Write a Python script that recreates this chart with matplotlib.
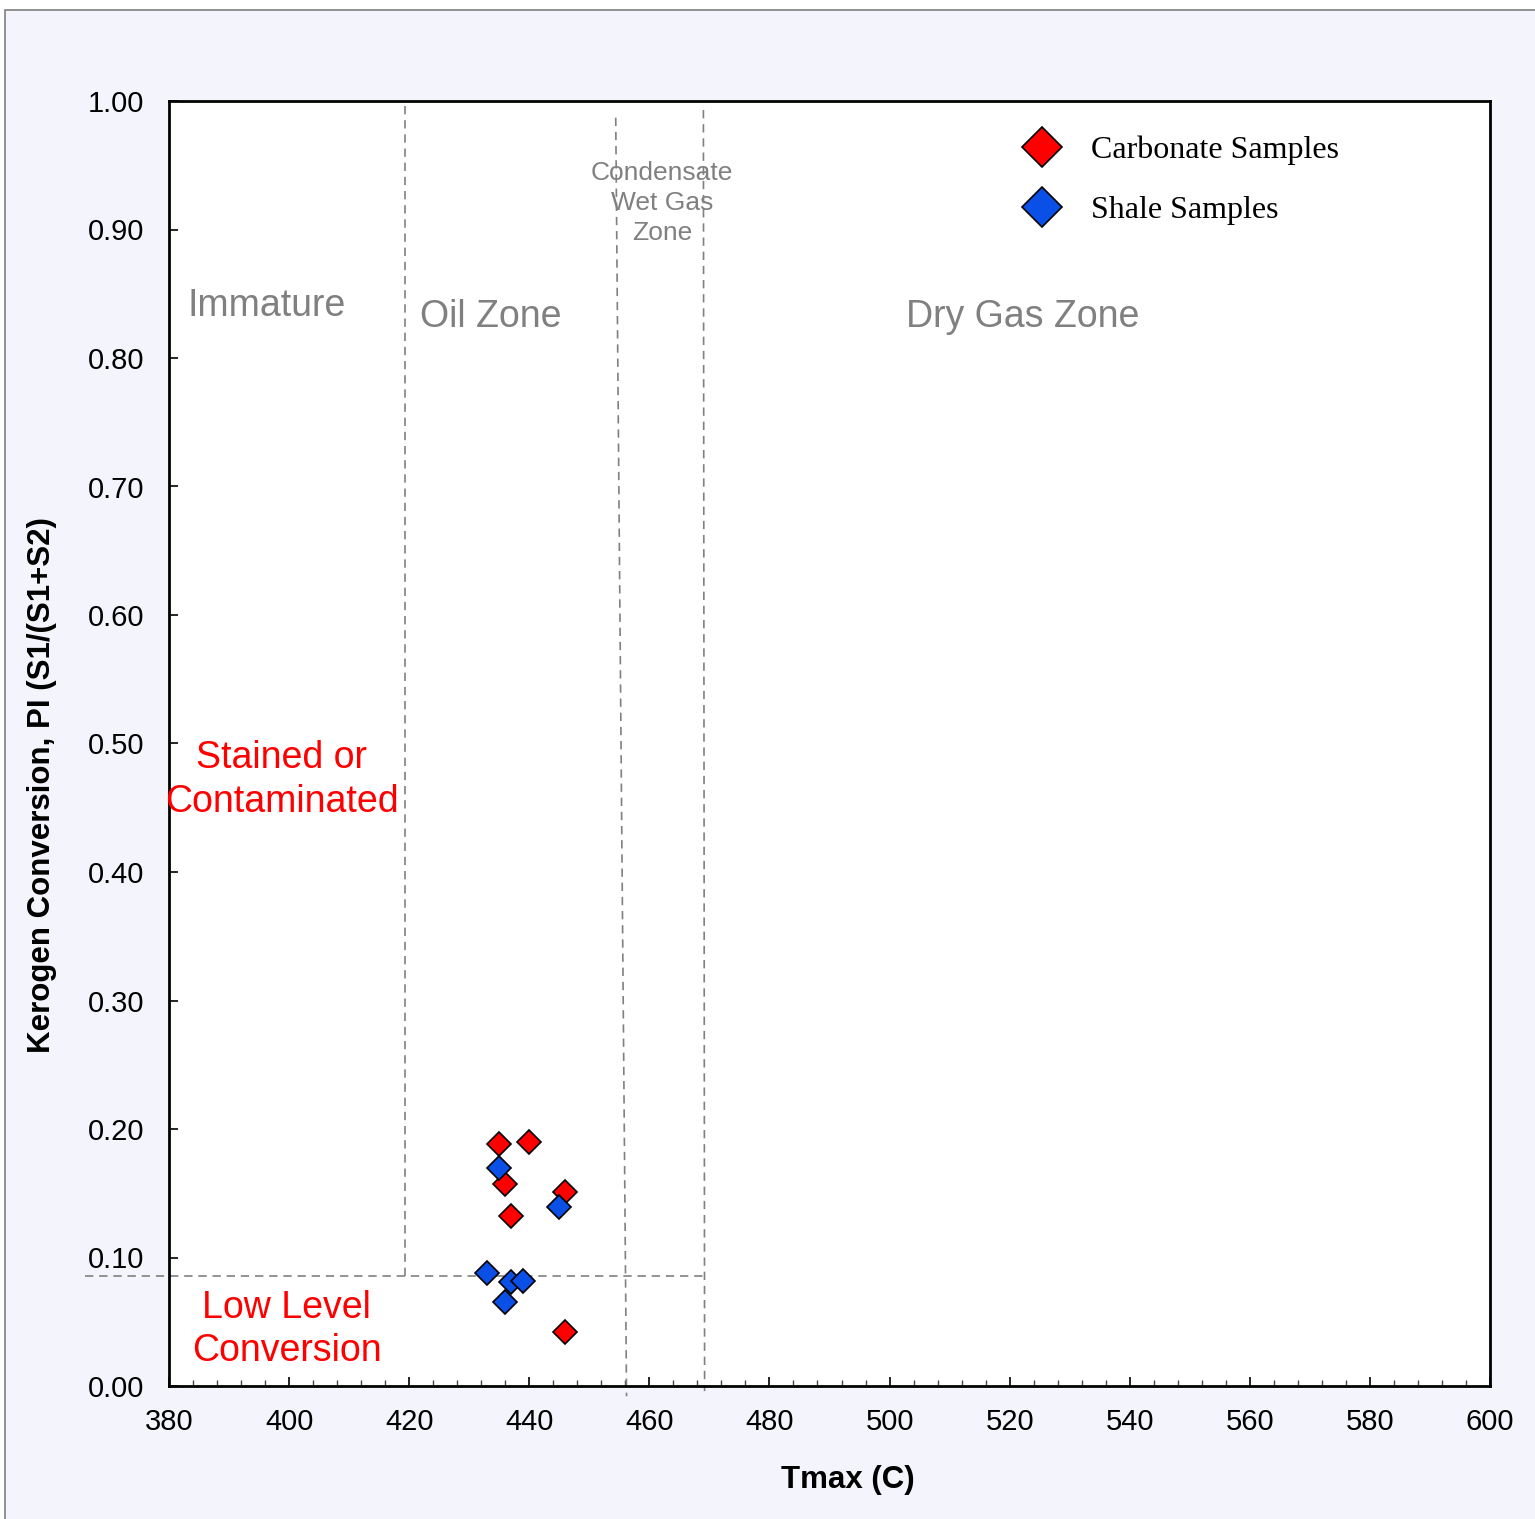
import matplotlib
matplotlib.use("Agg")
import matplotlib.pyplot as plt
from matplotlib.patches import Rectangle
from matplotlib.ticker import MultipleLocator, FormatStrFormatter

# datos
carb_tmax = [435, 440, 436, 446, 437, 446]
carb_pi = [0.188, 0.190, 0.157, 0.151, 0.132, 0.042]
shale_tmax = [435, 445, 433, 437, 439, 436]
shale_pi = [0.170, 0.139, 0.088, 0.081, 0.082, 0.065]

# limites de zonas (Tmax, PI)
lim_inmaduro = ([419.3, 419.3], [0.0856, 0.997])
lim_condensado = ([454.4, 456.2], [0.987, -0.008])
lim_gas_seco = ([469.0, 469.2], [0.993, -0.004])
lim_pi_bajo = ([366.0, 469.0], [0.0856, 0.0856])

GRIS = "#808080"
SANS = ["Liberation Sans", "DejaVu Sans"]
SERIF = ["Liberation Serif", "DejaVu Serif"]

plt.rcParams["font.family"] = SANS

fig = plt.figure(figsize=(15.35, 15.19), dpi=100)
fig.patch.set_facecolor("white")
fig.patches.append(Rectangle((5 / 1535, -0.05), 1.2, 1 - 10 / 1519 + 0.05,
                             transform=fig.transFigure, facecolor="#F4F4FC",
                             edgecolor="#7f7f7f", linewidth=1.2, zorder=-10))

ax = fig.add_axes([169 / 1535, 133 / 1519, 1321 / 1535, 1285 / 1519])
ax.set_facecolor("white")
ax.set_xlim(380, 600)
ax.set_ylim(0, 1.0)

for sp in ax.spines.values():
    sp.set_linewidth(2.0)
    sp.set_color("black")

ax.xaxis.set_major_locator(MultipleLocator(20))
ax.xaxis.set_minor_locator(MultipleLocator(4))
ax.yaxis.set_major_locator(MultipleLocator(0.1))
ax.yaxis.set_major_formatter(FormatStrFormatter("%.2f"))
ax.tick_params(axis="x", which="major", direction="in", length=6.5, width=1.2,
               labelsize=21, pad=16, top=False)
ax.tick_params(axis="x", which="minor", direction="in", length=4.3, width=1.0,
               color="#444444", top=False)
ax.tick_params(axis="y", which="major", direction="in", length=6.5, width=1.2,
               labelsize=21, pad=18, right=False)

dash = dict(color=GRIS, linewidth=1.2, dashes=(5, 3.5), clip_on=False, zorder=2)
for xs, ys in (lim_inmaduro, lim_condensado, lim_gas_seco, lim_pi_bajo):
    ax.plot(xs, ys, **dash)

ax.plot(carb_tmax, carb_pi, linestyle="none", marker="D", markersize=12.5,
        markerfacecolor="#FF0000", markeredgecolor="black", markeredgewidth=1.2,
        label="Carbonate Samples", zorder=3)
ax.plot(shale_tmax, shale_pi, linestyle="none", marker="D", markersize=12.5,
        markerfacecolor="#0A4FE6", markeredgecolor="black", markeredgewidth=1.2,
        label="Shale Samples", zorder=4)

ax.text(396.3, 0.8407, "Immature", color=GRIS, fontsize=27, ha="center", va="center")
ax.text(433.6, 0.8317, "Oil Zone", color=GRIS, fontsize=27, ha="center", va="center")
ax.text(522.2, 0.8317, "Dry Gas Zone", color=GRIS, fontsize=27, ha="center", va="center")
ax.text(462.1, 0.9206, "Condensate\nWet Gas\nZone", color=GRIS, fontsize=19,
        ha="center", va="center", linespacing=1.3)
ax.text(398.8, 0.4715, "Stained or\nContaminated", color="#FF0000", fontsize=27,
        ha="center", va="center", linespacing=1.27)
ax.text(399.6, 0.0440, "Low Level\nConversion", color="#FF0000", fontsize=27,
        ha="center", va="center", linespacing=1.27)

ax.set_xlabel("Tmax (C)", fontsize=22.5, fontweight="bold", va="center")
ax.xaxis.set_label_coords(0.514, -0.0732)
ax.set_ylabel("Kerogen Conversion, PI (S1/(S1+S2)", fontsize=22.5,
              fontweight="bold", va="center", ha="center")
ax.yaxis.set_label_coords(-0.0962, 0.4677)

ax.legend(loc="upper left", bbox_to_anchor=(0.6427, 0.9728), frameon=False,
          prop={"family": SERIF, "size": 23}, markerscale=1.64,
          handlelength=1.5, handletextpad=0.78, labelspacing=0.94,
          borderpad=0, borderaxespad=0)

fig.savefig("out.png", dpi=100, facecolor=fig.get_facecolor())
